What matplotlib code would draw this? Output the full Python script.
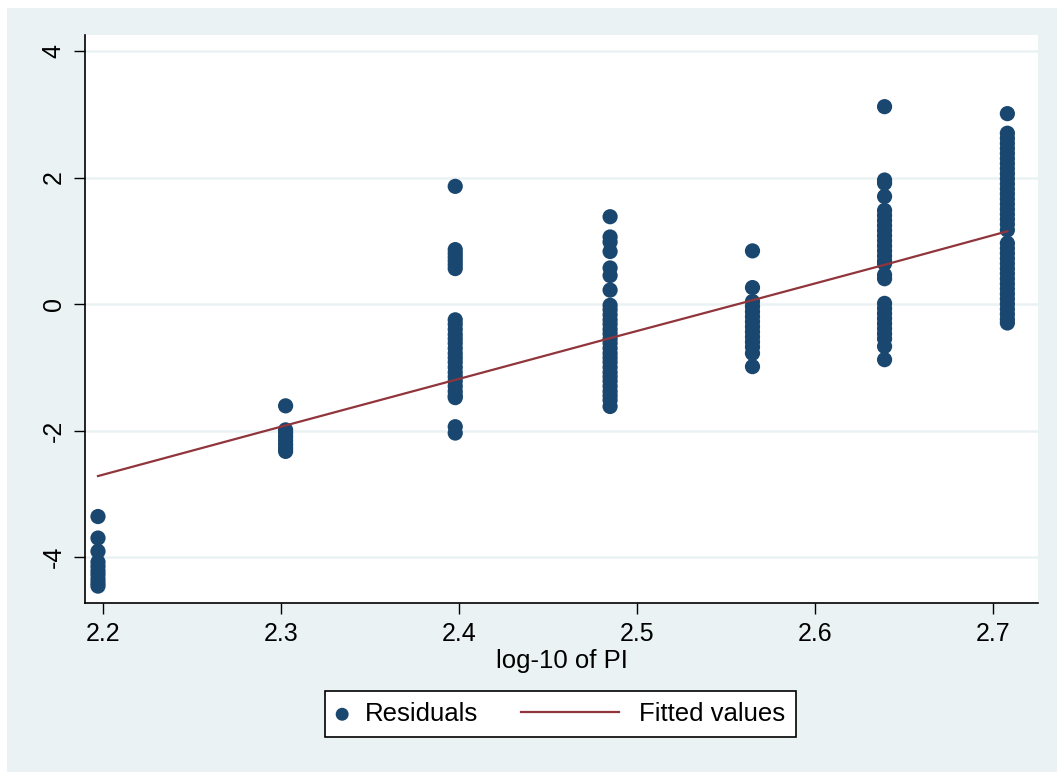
import matplotlib
matplotlib.use("Agg")
import matplotlib.pyplot as plt
from matplotlib.patches import Rectangle
from matplotlib.collections import PathCollection
from matplotlib.lines import Line2D
from matplotlib.legend_handler import HandlerPathCollection, HandlerLine2D

# x positions of the groups (log PI)
x_groups = [2.1972, 2.3026, 2.3979, 2.4849, 2.5649, 2.6391, 2.7081]

# residuals per group
res_1 = [-3.36, -3.70, -3.91, -4.08, -4.15, -4.22, -4.28, -4.35, -4.41, -4.46]
res_2 = [-1.61, -1.99, -2.04, -2.10, -2.16, -2.22, -2.28, -2.33]
res_3 = [1.86, 0.86, 0.80, 0.74, 0.68, 0.62, 0.56, -0.25, -0.32, -0.40, -0.48,
         -0.55, -0.62, -0.70, -0.78, -0.85, -0.92, -1.00, -1.08, -1.15, -1.22,
         -1.30, -1.38, -1.45, -1.48, -1.94, -2.04]
res_4 = [1.38, 1.06, 0.98, 0.83, 0.57, 0.45, 0.22, -0.02, -0.09, -0.17, -0.25,
         -0.32, -0.40, -0.47, -0.55, -0.62, -0.70, -0.78, -0.85, -0.92, -1.00,
         -1.08, -1.15, -1.22, -1.30, -1.38, -1.45, -1.52, -1.62]
res_5 = [0.84, 0.26, 0.04, -0.04, -0.12, -0.20, -0.28, -0.36, -0.44, -0.52,
         -0.60, -0.68, -0.78, -0.99]
res_6 = [3.12, 1.96, 1.91, 1.70, 1.48, 1.40, 1.32, 1.24, 1.16, 1.08, 1.00, 0.92,
         0.84, 0.76, 0.68, 0.64, 0.46, 0.40, 0.01, -0.07, -0.15, -0.23, -0.31,
         -0.39, -0.47, -0.55, -0.67, -0.88]
res_7 = [3.01, 2.70, 2.62, 2.54, 2.46, 2.38, 2.30, 2.22, 2.14, 2.06, 1.98, 1.90,
         1.82, 1.74, 1.66, 1.58, 1.50, 1.42, 1.34, 1.26, 1.17, 0.96, 0.88, 0.80,
         0.72, 0.64, 0.56, 0.48, 0.40, 0.32, 0.24, 0.16, 0.08, 0.00, -0.08,
         -0.16, -0.24, -0.30]
residuals = [res_1, res_2, res_3, res_4, res_5, res_6, res_7]

# fitted values at each group
fitted = [-2.72, -1.92, -1.20, -0.54, 0.06, 0.62, 1.15]

xticks = [2.2, 2.3, 2.4, 2.5, 2.6, 2.7]
yticks = [-4, -2, 0, 2, 4]

navy = "#1A476F"
maroon = "#90353B"
bg = "#EAF2F3"


# Stata style legend keys: short key for the dot, long line for the fit
class DotKey(HandlerPathCollection):
    def get_xdata(self, legend, xdescent, ydescent, width, height, fontsize):
        x = [-xdescent + width - 0.12 * fontsize]
        return x, x


class LongLineKey(HandlerLine2D):
    def get_xdata(self, legend, xdescent, ydescent, width, height, fontsize):
        xd = [-xdescent - 3.46 * fontsize, -xdescent + width]
        return xd, [xd[1]]


plt.rcParams['font.family'] = ['Liberation Sans', 'DejaVu Sans']

fig = plt.figure(figsize=(10.57, 7.72), dpi=100)
fig.patch.set_facecolor("white")
fig.patches.append(Rectangle((7 / 1057, 0), 1, 1 - 8 / 772, transform=fig.transFigure,
                             facecolor=bg, edgecolor="none", zorder=-10))

ax = fig.add_axes([85 / 1057, 169 / 772, 953 / 1057, 568 / 772])
ax.set_facecolor("white")

xs, ys = [], []
for xg, r in zip(x_groups, residuals):
    xs += [xg] * len(r)
    ys += r
ax.scatter(xs, ys, s=120, color=navy, edgecolors="none", label="Residuals", zorder=3)
ax.plot(x_groups, fitted, color=maroon, lw=1.6, label="Fitted values", zorder=4)

ax.set_xlim(2.1899, 2.7253)
ax.set_ylim(-4.727, 4.253)
ax.set_xticks(xticks)
ax.set_xticklabels([f"{t:.1f}" for t in xticks])
ax.set_yticks(yticks)
ax.set_yticklabels([str(t) for t in yticks], rotation=90, va="center")
ax.tick_params(length=8, width=1, labelsize=18, pad=6)
ax.grid(axis="y", color=bg, lw=1.8, zorder=0)
ax.set_axisbelow(True)
for s in ["top", "right"]:
    ax.spines[s].set_visible(False)
for s in ["left", "bottom"]:
    ax.spines[s].set_linewidth(1.2)

ax.set_xlabel("log-10 of PI", fontsize=18.5, labelpad=2)

leg = fig.legend(loc="center", bbox_to_anchor=(560.5 / 1057, 1 - 714 / 772), ncol=2,
                 fontsize=18.5, frameon=True, fancybox=False, edgecolor="black",
                 facecolor="white", framealpha=1,
                 handlelength=0.35, columnspacing=5.1, handletextpad=0.78,
                 borderpad=0.42, borderaxespad=0, markerscale=0.85,
                 handler_map={PathCollection: DotKey(), Line2D: LongLineKey()})
leg.get_frame().set_linewidth(1.2)

fig.savefig("out.png", dpi=100)
